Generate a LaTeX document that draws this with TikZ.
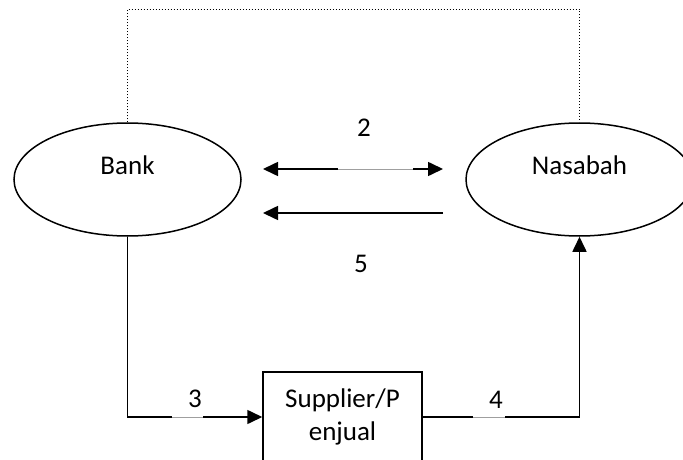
\documentclass[tikz,border=0pt]{standalone}
\usepackage{fontspec}
\setmainfont{Carlito}
\usetikzlibrary{shapes.geometric,arrows.meta}
\begin{document}
\begin{tikzpicture}[x=1pt,y=-1pt,
  font=\fontsize{27}{33}\selectfont,
  actor/.style={ellipse, draw, line width=1.5pt, minimum width=227pt,
                minimum height=113pt, inner sep=0pt},
  procbox/.style={rectangle, draw, line width=1.5pt, minimum width=159pt,
                  minimum height=90pt, inner sep=0pt, align=center},
  flow/.style={line width=1.6pt},
  tip/.style={-{Triangle[length=15pt,width=14pt]}},
  bitip/.style={{Triangle[length=15pt,width=14pt]}-{Triangle[length=15pt,width=14pt]}},
  gapwhite/.style={white, line width=3pt},
  gapgray/.style={gray!75, line width=0.8pt},
  dotline/.style={line width=1pt, dash pattern=on 1pt off 2pt}]
\useasboundingbox (0,0) rectangle (683,460);
\clip (0,0) rectangle (683,460);

% actors and the process box
\node[actor, label={[yshift=14.5pt]center:Bank}] (bank) at (127.5,179.5) {};
\node[actor, label={[yshift=14.5pt]center:Nasabah}] (nas) at (579.5,179.5) {};
\node[procbox] (sp) at (342.5,417) {Supplier/P\\enjual};

% dotted link across the top
\draw[dotline] (bank.north) -- ++(0,-113) -| (nas.north);

% flow 2 (both ways) and flow 5 (back to Bank)
\coordinate (a2l) at (263,169);
\coordinate (a2r) at (443,169);
\coordinate (a5l) at (263,213);
\coordinate (a5r) at (443,213);
\coordinate (g2l) at (338,169);
\coordinate (g2r) at (413,169);
\draw[flow, bitip] (a2l) -- (a2r);
\draw[gapwhite] (g2l) -- (g2r);
\draw[gapgray] (g2l) -- (g2r);
\draw[flow, tip] (a5r) -- (a5l);

% flow 3: Bank to supplier
\draw[flow, tip] (bank.south) |- (sp.west);
\coordinate (g3l) at (172,417);
\coordinate (g3r) at (203,417);
\draw[gapwhite] (g3l) -- (g3r);
\draw[gapgray] (g3l) -- (g3r);

% flow 4: supplier to Nasabah
\draw[flow, tip] (sp.east) -| (nas.south);
\coordinate (g4l) at (473,417);
\coordinate (g4r) at (505,417);
\draw[gapwhite] (g4l) -- (g4r);
\draw[gapgray] (g4l) -- (g4r);

% flow numbers
\node (n2) at (364,128) {2};
\node (n5) at (361,264) {5};
\node (n3) at (195,399) {3};
\node (n4) at (496,400) {4};
\end{tikzpicture}
\end{document}
